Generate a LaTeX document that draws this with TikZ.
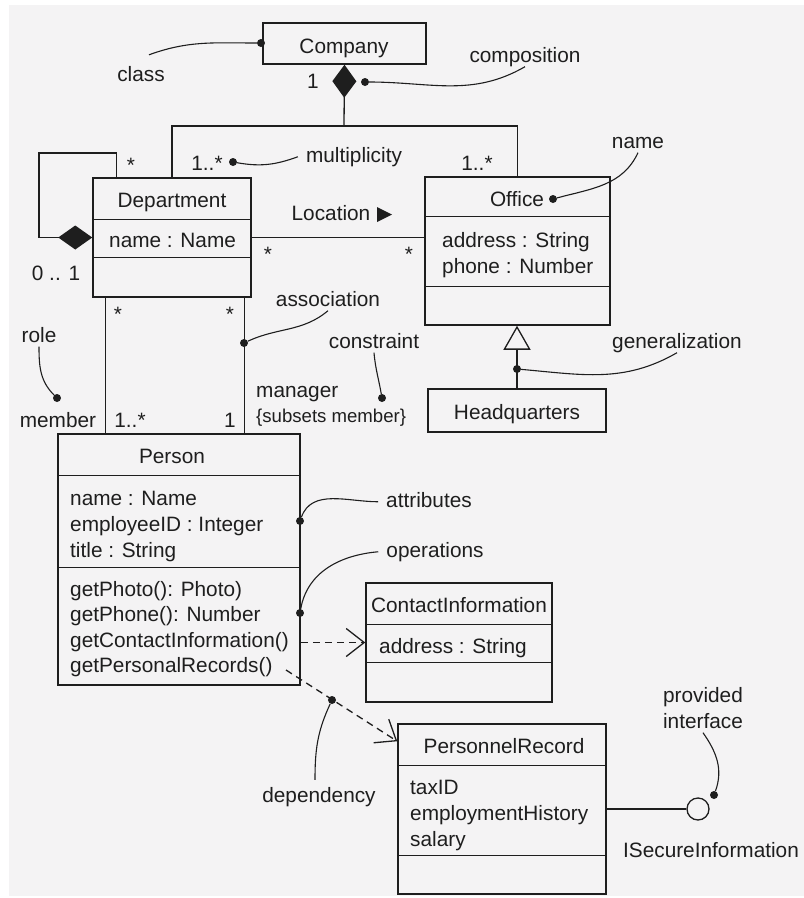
\documentclass[tikz,border=0pt]{standalone}
\usepackage{fontspec}
\setmainfont{Liberation Sans}
\usetikzlibrary{arrows.meta}

\definecolor{paper}{RGB}{244,243,244}
\definecolor{ink}{RGB}{30,30,30}

\tikzset{
  cls/.style={draw=ink, line width=1.5pt, fill=paper, inner sep=0pt},
  sep/.style={draw=ink, line width=1.5pt},
  conn/.style={draw=ink, line width=1.3pt},
  dep/.style={conn, dash pattern=on 7pt off 5pt, -{Straight Barb[length=18pt,width=28pt]}},
  lbl/.style={text=ink, inner sep=0pt, anchor=base, text height=15pt, text depth=4.5pt},
  attr/.style={lbl, anchor=base west},
  dot/.style={circle, fill=ink, inner sep=0pt, minimum size=8pt},
  note/.style={draw=ink, line width=1.1pt},
}

\begin{document}
\begin{tikzpicture}[x=1pt, y=1pt, font=\fontsize{20.8}{26}\selectfont]
    \useasboundingbox (0,0) rectangle (804,-898);
    \fill[paper] (9,-5) rectangle (804,-896);

    \node[cls, minimum width=163pt, minimum height=41pt] (comp) at (344.5,-43.5) {};
    \node[cls, minimum width=158pt, minimum height=119pt] (dept) at (172,-237.5) {};
    \node[cls, minimum width=185pt, minimum height=148pt] (office) at (517.5,-251) {};
    \node[cls, minimum width=178pt, minimum height=43pt] (hq) at (517,-410.5) {};
    \node[cls, minimum width=242pt, minimum height=251pt] (person) at (179,-559.5) {};
    \node[cls, minimum width=186pt, minimum height=119pt] (contact) at (459,-642.5) {};
    \node[cls, minimum width=208pt, minimum height=170pt] (record) at (502,-809) {};

    \draw[sep] ([yshift=-42pt]dept.north west) -- ([yshift=-42pt]dept.north east);
    \draw[sep] ([yshift=-80pt]dept.north west) -- ([yshift=-80pt]dept.north east);
    \draw[sep] ([yshift=-40pt]office.north west) -- ([yshift=-40pt]office.north east);
    \draw[sep] ([yshift=-110pt]office.north west) -- ([yshift=-110pt]office.north east);
    \draw[sep] ([yshift=-42pt]person.north west) -- ([yshift=-42pt]person.north east);
    \draw[sep] ([yshift=-134pt]person.north west) -- ([yshift=-134pt]person.north east);
    \draw[sep] ([yshift=-42pt]contact.north west) -- ([yshift=-42pt]contact.north east);
    \draw[sep] ([yshift=-80pt]contact.north west) -- ([yshift=-80pt]contact.north east);
    \draw[sep] ([yshift=-42pt]record.north west) -- ([yshift=-42pt]record.north east);
    \draw[sep] ([yshift=-132pt]record.north west) -- ([yshift=-132pt]record.north east);

    \node[lbl] (compname) at (344,-53) {Company};
    \node[lbl] (deptname) at (172,-207) {Department};
    \node[attr] (deptname1) at (109,-247) {name : Name};
    \node[lbl] (officename) at (517,-206) {Office};
    \node[attr] (officeaddr) at (442,-247) {address : String};
    \node[attr] (officephone) at (442,-273) {phone : Number};
    \node[lbl] (hqname) at (517,-419) {Headquarters};
    \node[lbl] (personname) at (172,-463) {Person};
    \node[attr] (personattr1) at (70,-505) {name : Name};
    \node[attr] (personattr2) at (70,-531) {employeeID : Integer};
    \node[attr] (personattr3) at (70,-557) {title : String};
    \node[attr] (personop1) at (70,-596) {getPhoto(): Photo)};
    \node[attr] (personop2) at (70,-621) {getPhone(): Number};
    \node[attr] (personop3) at (70,-647) {getContactInformation()};
    \node[attr] (personop4) at (70,-672) {getPersonalRecords()};
    \node[lbl] (contactname) at (459,-612) {ContactInformation};
    \node[attr] (contactaddr) at (379,-653) {address : String};
    \node[lbl] (recordname) at (504,-753) {PersonnelRecord};
    \node[attr] (recordattr1) at (410,-794) {taxID};
    \node[attr] (recordattr2) at (410,-820) {employmentHistory};
    \node[attr] (recordattr3) at (410,-846) {salary};

    \coordinate (fork) at (344,-126);
    \coordinate (loop) at (39,-153);
    \draw[conn, {Diamond[length=33pt,width=24pt]}-] (comp.south) -- (fork);
    \draw[conn] (dept.north) |- (fork) -| (office.north);
    \draw[conn, -{Diamond[length=34pt,width=24pt]}] ([xshift=24pt]dept.north west) |- (loop) |- (dept.west);
    \draw[conn] (dept.east) -- (dept.east -| office.west);
    \coordinate (memtop) at ([xshift=13pt]dept.south west);
    \coordinate (mgrtop) at ([xshift=-7pt]dept.south east);
    \draw[conn] (memtop) -- (memtop |- person.north);
    \draw[conn] (mgrtop) -- (mgrtop |- person.north);
    \draw[conn, -{Triangle[open,length=24pt,width=27pt]}] (hq.north) -- (hq.north |- office.south);
    \draw[dep] (person.east |- contact.west) -- (contact.west);
    \coordinate (depstart) at (286,-670);
    \draw[dep] (depstart) -- ([yshift=-18pt]record.north west);
    \node[circle, draw=ink, line width=1.3pt, fill=paper, minimum size=22pt, inner sep=0pt] (iface) at (698,-809) {};
    \draw[conn] (record.east) -- (iface);

    \node[lbl] (locnote) at (331,-220) {Location};
    \fill[ink] (377,-207) -- (377,-222) -- (392,-214.5) -- cycle;

    \node[lbl] (compmult) at (313,-88) {1};
    \node[lbl] (deptmult) at (207,-170) {1..*};
    \node[lbl] (officemult) at (477,-170) {1..*};
    \node[lbl] (loopmult) at (131,-172) {*};
    \node[lbl] (loopmult2) at (56,-280) {0 .. 1};
    \node[lbl] (locmult1) at (268,-261) {*};
    \node[lbl] (locmult2) at (409,-261) {*};
    \node[lbl] (memmult1) at (118,-321) {*};
    \node[lbl] (mgrmult1) at (230,-321) {*};
    \node[lbl] (memrole) at (58,-427) {member};
    \node[lbl] (memmult2) at (130,-427) {1..*};
    \node[lbl] (mgrmult2) at (230,-427) {1};
    \node[attr] (mgrrole) at (256,-397) {manager};
    \node[attr, font=\fontsize{18.6}{22}\selectfont] (mgrcons) at (256,-422) {\{subsets member\}};
    \node[lbl] (ifacename) at (711,-857) {ISecureInformation};

    \node[dot] (clsdot) at (261,-43) {};
    \node[lbl] (clsnote) at (141,-81) {class};
    \draw[note] ([shift={(8pt,11pt)}]clsnote.north) to[out=20,in=180] (clsdot);

    \node[dot] (compdot) at (365,-82) {};
    \node[lbl] (compnote) at (525,-62) {composition};
    \draw[note] (compnote.south) to[out=-150,in=0] (compdot);

    \node[dot] (multdot) at (233,-162) {};
    \node[lbl] (multnote) at (354,-162) {multiplicity};
    \draw[note] (multdot) to[out=-10,in=200] ([xshift=-8pt]multnote.west);

    \node[dot] (namedot) at (553,-199) {};
    \node[lbl] (namenote) at (638,-148) {name};
    \draw[note] (namedot) to[out=15,in=-115] (namenote.south);

    \node[dot] (assocdot) at (244,-343) {};
    \node[lbl] (assocnote) at (328,-306) {association};
    \draw[note] (assocdot) to[out=25,in=-140] (assocnote.south);

    \node[dot] (roledot) at (57,-398) {};
    \node[lbl] (rolenote) at (39,-342) {role};
    \draw[note] (rolenote.south) to[out=-90,in=135] (roledot);

    \node[dot] (constdot) at (382,-398) {};
    \node[lbl] (constnote) at (374,-348) {constraint};
    \draw[note] (constnote.south) to[out=-85,in=100] (constdot);

    \node[dot] (gendot) at (517,-369) {};
    \node[lbl] (gennote) at (677,-348) {generalization};
    \draw[note] (gendot) to[out=-5,in=-150] (gennote.south);

    \node[dot] (attrdot) at (300,-521) {};
    \node[lbl] (attrnote) at (429,-507) {attributes};
    \draw[note] (attrdot) to[out=70,in=180] ([xshift=-8pt]attrnote.west);

    \node[dot] (opdot) at (300,-613) {};
    \node[lbl] (opnote) at (435,-557) {operations};
    \draw[note] (opdot) to[out=80,in=185] ([xshift=-8pt]opnote.west);

    \node[dot] (depdot) at (332,-700) {};
    \node[lbl] (depnote) at (319,-802) {dependency};
    \draw[note] (depdot) to[out=-115,in=90] ([shift={(-4pt,7pt)}]depnote.north);

    \node[dot] (provdot) at (714,-795) {};
    \node[lbl] (provnote1) at (703,-702) {provided};
    \node[lbl] (provnote2) at (703,-728) {interface};
    \draw[note] (provnote2.south) to[out=-55,in=70] (provdot);
\end{tikzpicture}
\end{document}
